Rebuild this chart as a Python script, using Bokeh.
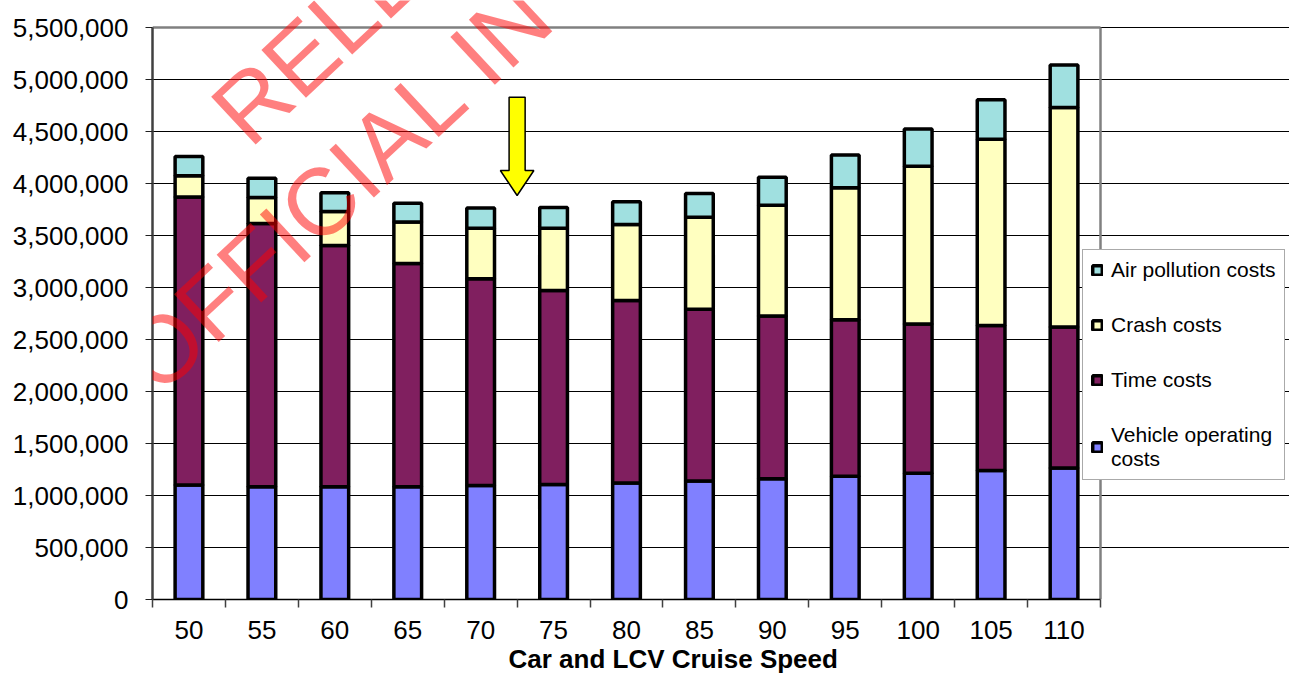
from bokeh.plotting import figure
from bokeh.models import (ColumnDataSource, Range1d, FixedTicker, NumeralTickFormatter,
                          Legend, LegendItem, Label, Title)
from bokeh.embed import file_html
from bokeh.resources import INLINE

# ---- data ----
speeds = [50, 55, 60, 65, 70, 75, 80, 85, 90, 95, 100, 105, 110]
vehicle_costs = [1100000, 1085000, 1085000, 1085000, 1095000, 1105000, 1120000,
                 1140000, 1160000, 1185000, 1215000, 1240000, 1265000]
time_costs = [2770000, 2530000, 2320000, 2145000, 1990000, 1865000, 1755000,
              1650000, 1565000, 1505000, 1435000, 1395000, 1355000]
crash_costs = [205000, 250000, 325000, 400000, 485000, 600000, 730000,
               885000, 1065000, 1270000, 1515000, 1790000, 2110000]
air_costs = [185000, 185000, 180000, 180000, 195000, 200000, 220000,
             230000, 270000, 315000, 360000, 380000, 410000]
series_names = ["Vehicle operating\ncosts", "Time costs", "Crash costs", "Air pollution costs"]
series_colors = ["#8080FF", "#801F5F", "#FFFFC0", "#A0E0E0"]
y_ticks = [0, 500000, 1000000, 1500000, 2000000, 2500000, 3000000,
           3500000, 4000000, 4500000, 5000000, 5500000]
x_title = "Car and LCV Cruise Speed"
watermark = [("RELE", 52.64, 4557692), ("OFFICIAL IN", 46.40, 2173077)]

# annotation arrow (points at the optimum speed)
ARROW_X = 72.5
ARROW_TOP = 4830000
ARROW_HEAD_BASE = 4125000
ARROW_TIP = 3885000
ARROW_SHAFT_HALF = 0.55
ARROW_HEAD_HALF = 1.15

FONT = "Liberation Sans"

# ---- layout (pixels) ----
W, H = 1289, 673
PLOT_LEFT, PLOT_RIGHT, PLOT_TOP, PLOT_BOTTOM = 152, 1100, 27, 599
TITLE_LEFT = 508
half = (speeds[1] - speeds[0]) / 2
X0, X1 = speeds[0] - half, speeds[-1] + half
Y1 = y_ticks[-1]
px_per_x = (PLOT_RIGHT - PLOT_LEFT) / (X1 - X0)
x_end = X0 + (W - PLOT_LEFT) / px_per_x
y_end = Y1 * (PLOT_BOTTOM) / (PLOT_BOTTOM - PLOT_TOP)

source = ColumnDataSource(data=dict(x=speeds, veh=vehicle_costs, time=time_costs,
                                    crash=crash_costs, air=air_costs))

p = figure(width=W, height=H,
           x_range=Range1d(X0, x_end), y_range=Range1d(0, y_end),
           output_backend="svg", toolbar_location=None,
           min_border_left=PLOT_LEFT, min_border_right=0,
           min_border_top=0, min_border_bottom=H - PLOT_BOTTOM)
p.background_fill_color = "white"
p.border_fill_color = "white"
p.outline_line_color = None

# grid limited to the plot area
p.xgrid.visible = False
p.ygrid.ticker = FixedTicker(ticks=y_ticks)
p.ygrid.bounds = (X0, X1)
p.ygrid.grid_line_color = "black"
p.ygrid.grid_line_width = 1

# plot-area border (top and right, grey)
p.segment(x0=[X0, X1], y0=[Y1, 0], x1=[X1, X1], y1=[Y1, Y1],
          line_color="#808080", line_width=2.5)

# bars
bar_renderers = p.vbar_stack(["veh", "time", "crash", "air"], x="x", width=1.9, source=source,
                             fill_color=series_colors, line_color="black", line_width=3.5)

# arrow
ax = [ARROW_X - ARROW_SHAFT_HALF, ARROW_X + ARROW_SHAFT_HALF, ARROW_X + ARROW_SHAFT_HALF,
      ARROW_X + ARROW_HEAD_HALF, ARROW_X, ARROW_X - ARROW_HEAD_HALF, ARROW_X - ARROW_SHAFT_HALF]
ay = [ARROW_TOP, ARROW_TOP, ARROW_HEAD_BASE, ARROW_HEAD_BASE, ARROW_TIP,
      ARROW_HEAD_BASE, ARROW_HEAD_BASE]
p.patch(ax, ay, fill_color="#FFFF00", line_color="black", line_width=1.5)

# axes
xa = p.xaxis[0]
xa.bounds = (X0, X1)
xa.ticker = FixedTicker(ticks=speeds, minor_ticks=[s - half for s in speeds] + [X1])
xa.major_tick_out = 0
xa.major_tick_in = 0
xa.minor_tick_out = 8
xa.minor_tick_in = 0
xa.minor_tick_line_color = "#404040"
xa.minor_tick_line_width = 1.5
xa.axis_line_color = "black"
xa.axis_line_width = 1.5
xa.major_label_text_font = FONT
xa.major_label_text_font_size = "26px"
xa.major_label_text_color = "black"
xa.major_label_standoff = 13

ya = p.yaxis[0]
ya.bounds = (0, Y1)
ya.ticker = FixedTicker(ticks=y_ticks)
ya.formatter = NumeralTickFormatter(format="0,0")
ya.major_tick_out = 7
ya.major_tick_in = 0
ya.minor_tick_out = 0
ya.minor_tick_in = 0
ya.major_tick_line_color = "#202020"
ya.axis_line_color = "#404040"
ya.axis_line_width = 2.5
ya.major_label_text_font = FONT
ya.major_label_text_font_size = "26px"
ya.major_label_text_color = "black"
ya.major_label_standoff = 17

# x axis title
p.add_layout(Title(text=x_title, align="left", offset=TITLE_LEFT - PLOT_LEFT, text_font=FONT,
                   text_font_size="26px", text_font_style="bold", text_color="black",
                   standoff=0), "below")

# watermark
for txt, wx, wy in watermark:
    p.add_layout(Label(x=wx, y=wy, text=txt, angle=0.75, text_font=FONT,
                       text_font_size="95px", text_color="#FF0000", text_alpha=0.5,
                       text_align="left", text_baseline="middle"))

# legend
items = [LegendItem(label=name, renderers=[r])
         for name, r in reversed(list(zip(series_names, bar_renderers)))]
legend = Legend(items=items, location=(930, 119))
legend.label_text_font = FONT
legend.label_text_font_size = "21px"
legend.label_text_color = "black"
legend.glyph_width = 12
legend.glyph_height = 12
legend.label_standoff = 8
legend.padding = 8
legend.spacing = 31
legend.margin = 0
legend.border_line_color = "#555555"
legend.border_line_width = 1.5
legend.background_fill_color = "white"
legend.background_fill_alpha = 1
p.add_layout(legend, "center")

open("out.html", "w").write(file_html(p, INLINE))
